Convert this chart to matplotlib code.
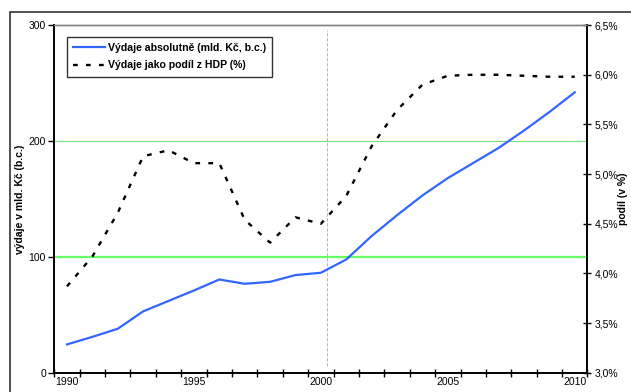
import matplotlib
matplotlib.use("Agg")
import matplotlib.pyplot as plt
from matplotlib.patches import Rectangle
from matplotlib.ticker import FuncFormatter

plt.rcParams['font.family'] = ['Liberation Sans', 'DejaVu Sans']

years = list(range(1990, 2011))
# vydaje absolutne (mld. Kc, b.c.)
vydaje_abs = [24.5, 31, 38, 53, 62, 71, 80.5, 76.8, 78.5, 84.3, 86.3, 97.8,
              118, 136, 153, 168, 181, 194, 209, 225, 242]
# vydaje jako podil z HDP (%)
vydaje_podil = [3.87, 4.17, 4.61, 5.18, 5.24, 5.11, 5.11, 4.54, 4.31, 4.565, 4.50, 4.78,
                5.28, 5.645, 5.90, 5.99, 6.00, 6.00, 5.99, 5.98, 5.98]
label_years = [1990, 1995, 2000, 2005, 2010]

x = list(range(len(years)))

fig = plt.figure(figsize=(6.31, 3.92), dpi=100)
ax = fig.add_axes([0.086, 0.049, 0.845, 0.887])

# outer frame of the chart area
fig.patches.append(Rectangle((9.5 / 631, -0.1), 1.2, 1 - 12 / 392 + 0.1,
                             transform=fig.transFigure, fill=False,
                             edgecolor='#333333', linewidth=1.2))

ax.set_xlim(-0.5, len(years) - 0.5)
ax.set_ylim(0, 300)
ax.set_yticks([0, 100, 200, 300])
ax.axhline(200, color='#77DD77', lw=0.8, zorder=1)
ax.axhline(100, color='#66FF66', lw=1.6, zorder=1)
ax.axvline(10.25, ymin=0.02, ymax=0.985, color='#aaaaaa', lw=0.6,
           linestyle=(0, (4, 2)), zorder=1)

l1, = ax.plot(x, vydaje_abs, color='#3366FF', lw=1.6, zorder=3,
              label='Výdaje absolutně (mld. Kč, b.c.)')

ax2 = ax.twinx()
ax2.set_ylim(3.0, 6.5)
ax2.set_yticks([3.0, 3.5, 4.0, 4.5, 5.0, 5.5, 6.0, 6.5])
ax2.yaxis.set_major_formatter(FuncFormatter(lambda v, p: f"{v:.1f}%".replace('.', ',')))
l2, = ax2.plot(x, vydaje_podil, color='black', lw=1.7, linestyle=(0, (2, 3.5)),
               zorder=3, label='Výdaje jako podíl z HDP (%)')

# x ticks at category boundaries, labels at centres
ax.set_xticks([i - 0.5 for i in range(len(years) + 1)])
ax.set_xticklabels([])
ax.set_xticks([years.index(y) for y in label_years], minor=True)
ax.set_xticklabels([str(y) for y in label_years], minor=True)
ax.tick_params(axis='x', which='major', direction='inout', length=6, width=1)
ax.tick_params(axis='x', which='minor', length=0, labelsize=7.5, pad=3)
ax.tick_params(axis='y', direction='out', length=4, width=1, labelsize=7.5, pad=2)
ax2.tick_params(axis='y', direction='inout', length=6, width=1, labelsize=7.5, pad=2)

for a in (ax, ax2):
    a.spines['top'].set_color('#808080')
    a.spines['top'].set_linewidth(1)
    a.spines['left'].set_linewidth(1.2)
    a.spines['right'].set_linewidth(1.2)
    a.spines['bottom'].set_linewidth(1.2)

ax.set_ylabel('výdaje v mld. Kč (b.c.)', fontsize=7.5, fontweight='bold')
ax.yaxis.set_label_coords(-0.054, 0.5)
ax2.set_ylabel('podíl (v %)', fontsize=7.5, fontweight='bold')
ax2.yaxis.set_label_coords(1.058, 0.5)

leg = ax.legend([l1, l2], [l1.get_label(), l2.get_label()], loc='upper left',
                bbox_to_anchor=(0.023, 0.967), borderaxespad=0, fontsize=7.6,
                frameon=True, fancybox=False, edgecolor='black', handlelength=3.0,
                borderpad=0.6, labelspacing=0.7, handletextpad=0.3)
leg.get_frame().set_linewidth(1)
for t in leg.get_texts():
    t.set_fontweight('bold')
leg.set_zorder(5)

fig.savefig('out.png', dpi=100)
